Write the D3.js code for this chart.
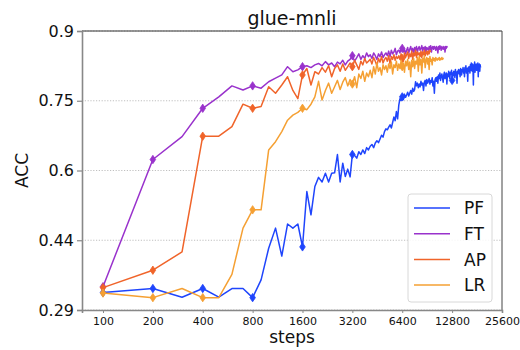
<!DOCTYPE html>
<html>
<head>
<meta charset="utf-8">
<script src="https://cdn.jsdelivr.net/npm/d3@7"></script>
<style>
  html, body { margin: 0; padding: 0; background: #fff; }
  svg { display: block; font-family: "DejaVu Sans", sans-serif; }
</style>
</head>
<body>
<svg id="chart" width="520" height="350"></svg>
<script>
// ---- data ----
const title = "glue-mnli";
const stepInterval = 100; // evaluation every 100 steps, first at 100
const seriesNames = ["PF", "FT", "AP", "LR"];
const seriesColors = ["#1f45fc", "#9932cc", "#f0642a", "#f5a033"];
const xTickValues = [100, 200, 400, 800, 1600, 3200, 6400, 12800, 25600];
const yTickValues = [0.29, 0.4425, 0.595, 0.7475, 0.9];
const yTickLabels = ["0.29", "0.44", "0.6", "0.75", "0.9"];
const markerSteps = [100, 200, 400, 800, 1600, 3200, 6400, 12800];

const PF = [
  0.328, 0.337, 0.318, 0.337, 0.318, 0.337, 0.337, 0.317, 0.356, 0.425,
  0.469, 0.408, 0.478, 0.469, 0.478, 0.428, 0.549, 0.498, 0.560, 0.580,
  0.570, 0.589, 0.570, 0.589, 0.590, 0.630, 0.570, 0.611, 0.582, 0.598,
  0.581, 0.630, 0.628, 0.622, 0.636, 0.630, 0.640, 0.632, 0.645, 0.640,
  0.648, 0.652, 0.645, 0.655, 0.660, 0.656, 0.664, 0.672, 0.668, 0.680,
  0.686, 0.684, 0.690, 0.695, 0.688, 0.700, 0.712, 0.704, 0.724, 0.708,
  0.738, 0.752, 0.748, 0.756, 0.750, 0.762, 0.755, 0.760, 0.766, 0.758,
  0.764, 0.770, 0.762, 0.775, 0.768, 0.772, 0.789, 0.780, 0.786, 0.776,
  0.784, 0.778, 0.790, 0.782, 0.786, 0.770, 0.788, 0.792, 0.780, 0.794,
  0.786, 0.790, 0.796, 0.784, 0.792, 0.788, 0.798, 0.780, 0.790, 0.764,
  0.794, 0.798, 0.790, 0.800, 0.786, 0.804, 0.796, 0.808, 0.792, 0.800,
  0.806, 0.798, 0.788, 0.804, 0.810, 0.796, 0.802, 0.808, 0.784, 0.806,
  0.800, 0.812, 0.804, 0.796, 0.810, 0.806, 0.814, 0.792, 0.808, 0.802,
  0.812, 0.806, 0.798, 0.816, 0.804, 0.810, 0.786, 0.812, 0.808, 0.816,
  0.806, 0.814, 0.800, 0.818, 0.810, 0.804, 0.816, 0.812, 0.820, 0.808,
  0.816, 0.800, 0.820, 0.812, 0.824, 0.808, 0.818, 0.814, 0.790, 0.820,
  0.812, 0.822, 0.816, 0.808, 0.826, 0.814, 0.830, 0.818, 0.812, 0.828,
  0.820, 0.782, 0.826, 0.816, 0.832, 0.810, 0.824, 0.818, 0.828, 0.814,
  0.822, 0.816, 0.830, 0.800, 0.824, 0.818, 0.828, 0.812, 0.826, 0.820
];

const FT = [
  0.341, 0.619, 0.669, 0.731, 0.756, 0.780, 0.771, 0.780, 0.775, 0.789,
  0.797, 0.804, 0.822, 0.811, 0.815, 0.822, 0.824, 0.820, 0.826, 0.829,
  0.824, 0.833, 0.826, 0.830, 0.822, 0.832, 0.828, 0.836, 0.826, 0.834,
  0.838, 0.846, 0.834, 0.842, 0.850, 0.838, 0.846, 0.840, 0.852, 0.844,
  0.848, 0.840, 0.852, 0.846, 0.838, 0.850, 0.844, 0.854, 0.842, 0.848,
  0.852, 0.846, 0.856, 0.844, 0.858, 0.850, 0.854, 0.862, 0.848, 0.856,
  0.858, 0.852, 0.864, 0.862, 0.854, 0.860, 0.850, 0.858, 0.864, 0.852,
  0.860, 0.866, 0.856, 0.862, 0.848, 0.864, 0.858, 0.866, 0.854, 0.862,
  0.866, 0.858, 0.862, 0.868, 0.856, 0.864, 0.860, 0.866, 0.852, 0.864,
  0.862, 0.858, 0.866, 0.860, 0.868, 0.854, 0.864, 0.866, 0.860, 0.866,
  0.864, 0.858, 0.866, 0.862, 0.852, 0.866, 0.860, 0.868, 0.864, 0.858,
  0.866, 0.862, 0.860, 0.866, 0.864, 0.854, 0.866, 0.862, 0.866, 0.864
];

const AP = [
  0.339, 0.377, 0.417, 0.670, 0.670, 0.691, 0.740, 0.731, 0.735, 0.778,
  0.764, 0.782, 0.800, 0.770, 0.752, 0.804, 0.818, 0.782, 0.811, 0.806,
  0.820, 0.810, 0.824, 0.800, 0.818, 0.826, 0.812, 0.828, 0.814, 0.822,
  0.830, 0.822, 0.836, 0.826, 0.816, 0.834, 0.826, 0.840, 0.830, 0.834,
  0.838, 0.828, 0.842, 0.834, 0.824, 0.840, 0.832, 0.844, 0.830, 0.838,
  0.842, 0.834, 0.846, 0.828, 0.844, 0.838, 0.848, 0.836, 0.844, 0.840,
  0.846, 0.838, 0.850, 0.840, 0.834, 0.852, 0.842, 0.848, 0.854, 0.840,
  0.850, 0.844, 0.856, 0.838, 0.852, 0.846, 0.858, 0.842, 0.854, 0.848,
  0.852, 0.844, 0.856, 0.842, 0.854, 0.848, 0.858, 0.846, 0.852, 0.856,
  0.848, 0.856, 0.850, 0.858, 0.854
];

const LR = [
  0.327, 0.317, 0.337, 0.317, 0.317, 0.368, 0.469, 0.509, 0.509, 0.640,
  0.658, 0.680, 0.705, 0.716, 0.722, 0.731, 0.728, 0.740, 0.756, 0.790,
  0.749, 0.770, 0.786, 0.764, 0.778, 0.792, 0.772, 0.788, 0.798, 0.780,
  0.794, 0.784, 0.800, 0.776, 0.806, 0.796, 0.812, 0.790, 0.808, 0.800,
  0.814, 0.798, 0.822, 0.806, 0.830, 0.812, 0.820, 0.804, 0.826, 0.816,
  0.824, 0.810, 0.828, 0.818, 0.832, 0.806, 0.826, 0.820, 0.834, 0.814,
  0.828, 0.818, 0.836, 0.822, 0.830, 0.810, 0.834, 0.824, 0.838, 0.816,
  0.832, 0.800, 0.836, 0.822, 0.840, 0.818, 0.834, 0.828, 0.842, 0.812,
  0.844, 0.826, 0.838, 0.808, 0.840, 0.832, 0.846, 0.820, 0.836, 0.842,
  0.828, 0.840, 0.816, 0.844, 0.834, 0.838, 0.826, 0.842, 0.836, 0.840,
  0.834, 0.842, 0.838, 0.836, 0.840, 0.838, 0.842, 0.836, 0.840, 0.838,
  0.842, 0.838, 0.840, 0.840
];

const seriesValues = [PF, FT, AP, LR];

// ---- layout ----
const svg = d3.select("#chart");
const L = 82, R = 502, T = 31, B = 310;

const x = d3.scaleLog().base(2).domain([74.7, 25600]).range([L, R]);
const y = d3.scaleLinear().domain([0.29, 0.9]).range([B, T]);

// grid lines
svg.append("g")
  .selectAll("line")
  .data(yTickValues)
  .join("line")
  .attr("x1", L).attr("x2", R)
  .attr("y1", d => y(d)).attr("y2", d => y(d))
  .attr("stroke", "#b0b0b0")
  .attr("stroke-width", 0.8)
  .attr("stroke-dasharray", "1.2,1.6");

// series
const line = d3.line()
  .x(d => x(d.step))
  .y(d => y(d.v));

const diamond = "M0,-4.2L2.8,0L0,4.2L-2.8,0Z";

seriesNames.forEach((name, si) => {
  const pts = seriesValues[si].map((v, i) => ({ step: (i + 1) * stepInterval, v }));
  const g = svg.append("g");
  g.append("path")
    .datum(pts)
    .attr("d", line)
    .attr("fill", "none")
    .attr("stroke", seriesColors[si])
    .attr("stroke-width", 1.5)
    .attr("stroke-linejoin", "round");
  g.selectAll("path.mk")
    .data(pts.filter(p => markerSteps.includes(p.step)))
    .join("path")
    .attr("class", "mk")
    .attr("d", diamond)
    .attr("transform", d => `translate(${x(d.step)},${y(d.v)})`)
    .attr("fill", seriesColors[si])
    .attr("stroke", seriesColors[si])
    .attr("stroke-width", 0.8);
});

// spines
svg.append("line").attr("x1", L).attr("x2", R).attr("y1", T).attr("y2", T)
  .attr("stroke", "#333").attr("stroke-width", 1);
svg.append("line").attr("x1", R).attr("x2", R).attr("y1", T).attr("y2", B)
  .attr("stroke", "#444").attr("stroke-width", 1);

// axes
const yAxis = d3.axisLeft(y)
  .tickValues(yTickValues)
  .tickFormat((d, i) => yTickLabels[i])
  .tickSize(5)
  .tickPadding(3);
const gy = svg.append("g").attr("transform", `translate(${L},0)`).call(yAxis);
gy.select(".domain").attr("stroke", "#888").attr("stroke-width", 1.6);
gy.selectAll(".tick line").attr("stroke", "#888").attr("stroke-width", 1.2);
gy.selectAll(".tick text")
  .attr("font-family", "DejaVu Sans, sans-serif")
  .attr("font-size", 16)
  .attr("fill", "#111");

const xAxis = d3.axisBottom(x)
  .tickValues(xTickValues)
  .tickFormat(d3.format("d"))
  .tickSize(3)
  .tickPadding(4);
const gx = svg.append("g").attr("transform", `translate(0,${B})`).call(xAxis);
gx.select(".domain").attr("stroke", "#888").attr("stroke-width", 1.6);
gx.selectAll(".tick line").attr("stroke", "#888").attr("stroke-width", 1);
gx.selectAll(".tick text")
  .attr("font-family", "DejaVu Sans, sans-serif")
  .attr("font-size", 11)
  .attr("fill", "#111");

// title & labels
svg.append("text")
  .attr("x", (L + R) / 2).attr("y", 25)
  .attr("text-anchor", "middle")
  .attr("font-size", 19)
  .attr("fill", "#111")
  .text(title);

svg.append("text")
  .attr("x", (L + R) / 2).attr("y", 343)
  .attr("text-anchor", "middle")
  .attr("font-size", 17)
  .attr("fill", "#111")
  .text("steps");

svg.append("text")
  .attr("transform", `translate(28,${(T + B) / 2}) rotate(-90)`)
  .attr("text-anchor", "middle")
  .attr("font-size", 17)
  .attr("fill", "#111")
  .text("ACC");

// legend
const lg = svg.append("g");
lg.append("rect")
  .attr("x", 408).attr("y", 194)
  .attr("width", 84).attr("height", 108)
  .attr("rx", 3).attr("ry", 3)
  .attr("fill", "#fff").attr("fill-opacity", 0.85)
  .attr("stroke", "#d8d8d8").attr("stroke-width", 1);
const items = lg.selectAll("g.item")
  .data(seriesNames)
  .join("g")
  .attr("class", "item")
  .attr("transform", (d, i) => `translate(0,${208 + i * 25.7})`);
items.append("line")
  .attr("x1", 414).attr("x2", 450)
  .attr("y1", 0).attr("y2", 0)
  .attr("stroke", (d, i) => seriesColors[i])
  .attr("stroke-width", 1.5);
items.append("text")
  .attr("x", 464).attr("y", 0)
  .attr("dy", "0.36em")
  .attr("font-size", 17)
  .attr("fill", "#111")
  .text(d => d);
</script>
</body>
</html>
